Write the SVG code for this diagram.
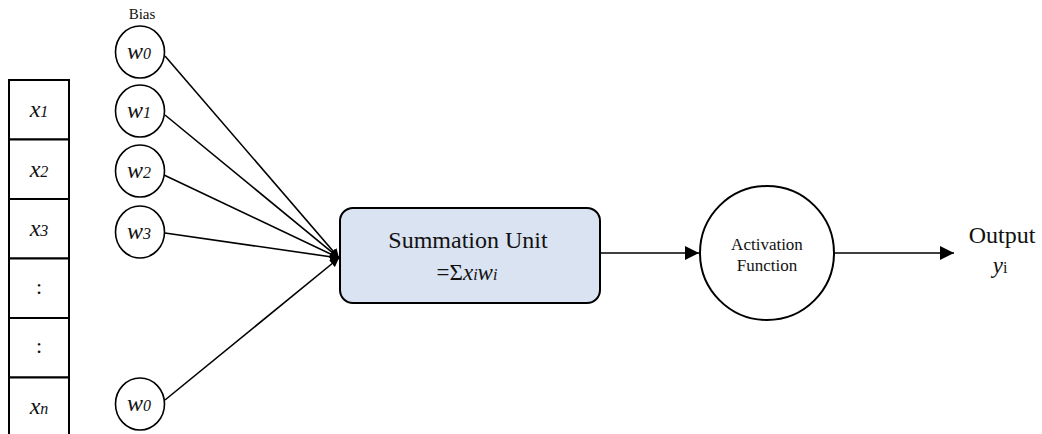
<svg xmlns="http://www.w3.org/2000/svg" width="1042" height="434" viewBox="0 0 1042 434">
  <style>
    text { fill: #111; }
    .it { font-style: italic; }
    .cell { fill: #fff; stroke: #000; stroke-width: 2; }
    .wc { fill: #fff; stroke: #000; stroke-width: 1.6; }
    .edge { fill: none; stroke: #000; stroke-width: 1.6; }
  </style>
  <defs>
    <marker id="arrow" viewBox="0 0 10 10" refX="10" refY="5" markerWidth="9" markerHeight="9" markerUnits="userSpaceOnUse" orient="auto">
      <path d="M0,0 L10,5 L0,10 z" fill="#000"/>
    </marker>
    <marker id="arrowBig" viewBox="0 0 10 10" refX="10" refY="5" markerWidth="14" markerHeight="14" markerUnits="userSpaceOnUse" orient="auto">
      <path d="M0,0 L10,5 L0,10 z" fill="#000"/>
    </marker>
  </defs>

  <rect width="1042" height="434" fill="#fff"/>

  <!-- input vector -->
  <g id="inputs">
    <rect class="cell" x="9" y="80" width="60" height="59.5"/>
    <rect class="cell" x="9" y="139.5" width="60" height="59.5"/>
    <rect class="cell" x="9" y="199" width="60" height="59.5"/>
    <rect class="cell" x="9" y="258.5" width="60" height="59.5"/>
    <rect class="cell" x="9" y="318" width="60" height="59.5"/>
    <rect class="cell" x="9" y="377.5" width="60" height="60"/>
    <text font-family="Liberation Serif" x="39" y="117" text-anchor="middle" font-size="24"><tspan class="it">x</tspan><tspan class="it" font-size="16">1</tspan></text>
    <text font-family="Liberation Serif" x="39" y="177" text-anchor="middle" font-size="24"><tspan class="it">x</tspan><tspan class="it" font-size="16">2</tspan></text>
    <text font-family="Liberation Serif" x="39" y="236" text-anchor="middle" font-size="24"><tspan class="it">x</tspan><tspan class="it" font-size="16">3</tspan></text>
    <text font-family="Liberation Serif" x="39" y="294" text-anchor="middle" font-size="22">:</text>
    <text font-family="Liberation Serif" x="39" y="353" text-anchor="middle" font-size="22">:</text>
    <text font-family="Liberation Serif" x="39" y="414" text-anchor="middle" font-size="24"><tspan class="it">x</tspan><tspan class="it" font-size="16">n</tspan></text>
  </g>

  <!-- weights -->
  <g id="bias-label">
    <text font-family="Liberation Serif" x="142" y="19" text-anchor="middle" font-size="15">Bias</text>
  </g>
  <g id="w0">
    <ellipse class="wc" cx="140" cy="52" rx="24.5" ry="26"/>
    <text font-family="Liberation Serif" x="139" y="59" text-anchor="middle" font-size="24"><tspan class="it">w</tspan><tspan class="it" font-size="16">0</tspan></text>
  </g>
  <g id="w1">
    <ellipse class="wc" cx="140" cy="111" rx="24.5" ry="26"/>
    <text font-family="Liberation Serif" x="139" y="118" text-anchor="middle" font-size="24"><tspan class="it">w</tspan><tspan class="it" font-size="16">1</tspan></text>
  </g>
  <g id="w2">
    <ellipse class="wc" cx="140" cy="171" rx="24.5" ry="26"/>
    <text font-family="Liberation Serif" x="139" y="178" text-anchor="middle" font-size="24"><tspan class="it">w</tspan><tspan class="it" font-size="16">2</tspan></text>
  </g>
  <g id="w3">
    <ellipse class="wc" cx="140" cy="232" rx="24.5" ry="26"/>
    <text font-family="Liberation Serif" x="139" y="239" text-anchor="middle" font-size="24"><tspan class="it">w</tspan><tspan class="it" font-size="16">3</tspan></text>
  </g>
  <g id="wn">
    <ellipse class="wc" cx="140" cy="404" rx="24.5" ry="26"/>
    <text font-family="Liberation Serif" x="139" y="411" text-anchor="middle" font-size="24"><tspan class="it">w</tspan><tspan class="it" font-size="16">0</tspan></text>
  </g>

  <!-- summation unit -->
  <g id="summation">
    <rect x="340" y="208" width="260" height="95" rx="13" ry="13" fill="#dae3f1" stroke="#000" stroke-width="2"/>
    <text font-family="Liberation Serif" x="468" y="248" text-anchor="middle" font-size="24">Summation Unit</text>
    <text font-family="Liberation Serif" x="467" y="280" text-anchor="middle" font-size="23">=Σ<tspan class="it">x</tspan><tspan class="it" font-size="16">i</tspan><tspan class="it">w</tspan><tspan class="it" font-size="16">i</tspan></text>
  </g>

  <!-- activation -->
  <g id="activation">
    <circle cx="767" cy="253" r="67" fill="#fff" stroke="#000" stroke-width="2"/>
    <text font-family="Liberation Serif" x="767" y="250" text-anchor="middle" font-size="17">Activation</text>
    <text font-family="Liberation Serif" x="767" y="271" text-anchor="middle" font-size="17">Function</text>
  </g>

  <!-- output -->
  <g id="output">
    <text font-family="Liberation Serif" x="1002" y="243" text-anchor="middle" font-size="24">Output</text>
    <text font-family="Liberation Serif" x="1000" y="273" text-anchor="middle" font-size="23"><tspan class="it">y</tspan><tspan font-size="16">i</tspan></text>
  </g>

  <!-- connectors -->
  <g id="connectors">
    <line class="edge" x1="165" y1="56" x2="339" y2="258" marker-end="url(#arrow)"/>
    <line class="edge" x1="165" y1="115" x2="339" y2="258" marker-end="url(#arrow)"/>
    <line class="edge" x1="164" y1="175" x2="339" y2="258" marker-end="url(#arrow)"/>
    <line class="edge" x1="165" y1="233" x2="339" y2="258" marker-end="url(#arrow)"/>
    <line class="edge" x1="165" y1="400" x2="339" y2="258" marker-end="url(#arrow)"/>
    <line class="edge" x1="600" y1="253" x2="699" y2="253" marker-end="url(#arrowBig)"/>
    <line class="edge" x1="834" y1="253" x2="954" y2="253" marker-end="url(#arrowBig)"/>
  </g>
</svg>
